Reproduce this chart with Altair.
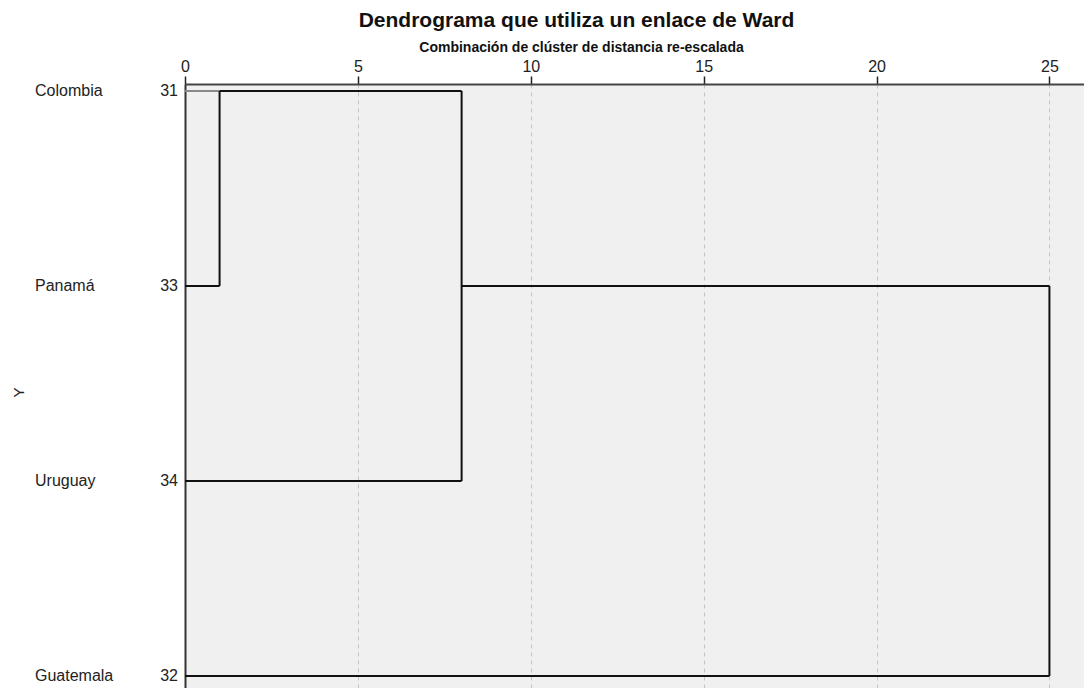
import altair as alt
import pandas as pd

# Leaves (top to bottom as drawn)
leaf_names = ["Colombia", "Panamá", "Uruguay", "Guatemala"]
leaf_ids = [31, 33, 34, 32]
leaf_rows = [0, 1, 2, 3]
leaf_join = [1, 1, 8, 25]          # rescaled distance where each leaf joins
leaf_color = ["#8a8a8a", "#111111", "#111111", "#111111"]

# Merges: distance, vertical span (rows), output row, distance of parent merge
merge_dist = [1, 8, 25]
merge_top = [0, 0, 1]
merge_bot = [1, 2, 3]
merge_out_row = [0, 1]
merge_parent = [8, 25]

ticks = [0, 5, 10, 15, 20, 25]

FONT = "Liberation Sans"

leaves = pd.DataFrame({
    "name": leaf_names, "id": [str(i) for i in leaf_ids], "row": leaf_rows,
    "x0": [0] * len(leaf_rows), "x1": leaf_join, "col": leaf_color,
})
verticals = pd.DataFrame({"x": merge_dist, "r0": merge_top, "r1": merge_bot})
links = pd.DataFrame({"x0": merge_dist[:2], "x1": merge_parent, "row": merge_out_row})

xscale = alt.Scale(domain=[0, 26], nice=False, zero=False)
yscale = alt.Scale(domain=[-7 / 195, 597 / 195], nice=False, zero=False, reverse=True)

xaxis = alt.Axis(
    orient="top", values=ticks, format="d", tickSize=8, tickColor="#222",
    tickWidth=1.5, domainColor="#444", domainWidth=2, labelFont=FONT,
    labelFontSize=16, labelColor="#222", labelPadding=2, labelFlush=False,
    grid=True, gridColor="#c4c4c4", gridDash=[4, 4], gridWidth=1,
    title="Combinación de clúster de distancia re-escalada", titleFont=FONT,
    titleFontSize=14, titleFontWeight="bold", titleColor="#111",
    titleX=396, titleY=-33, titleBaseline="alphabetic", titleAlign="center",
)
yaxis = alt.Axis(
    orient="left", labels=False, ticks=False, grid=False, domain=True,
    domainColor="#333", domainWidth=2, title="Y", titleFont=FONT,
    titleFontSize=15, titleFontWeight="normal", titleColor="#222",
    titleAngle=270, titleX=-167, titleY=308, titleBaseline="middle",
    titleAlign="center",
)

leaf_lines = alt.Chart(leaves).mark_rule(strokeWidth=2).encode(
    x=alt.X("x0:Q", scale=xscale, axis=xaxis),
    x2="x1:Q",
    y=alt.Y("row:Q", scale=yscale, axis=yaxis),
    color=alt.Color("col:N", scale=None),
)

vert_lines = alt.Chart(verticals).mark_rule(strokeWidth=2, color="#111").encode(
    x="x:Q", y="r0:Q", y2="r1:Q",
)

link_lines = alt.Chart(links).mark_rule(strokeWidth=2, color="#111").encode(
    x="x0:Q", x2="x1:Q", y="row:Q",
)

names = alt.Chart(leaves).mark_text(
    align="left", baseline="middle", font=FONT, fontSize=16, color="#222"
).encode(x=alt.value(-150), y="row:Q", text="name:N")

ids = alt.Chart(leaves).mark_text(
    align="right", baseline="middle", font=FONT, fontSize=16, color="#222"
).encode(x=alt.value(-7), y="row:Q", text="id:N")

chart = alt.layer(leaf_lines, link_lines, vert_lines, names, ids).properties(
    width=899, height=604,
    autosize=alt.AutoSizeParams(type="none"),
    padding={"left": 177, "top": 76, "right": 0, "bottom": 0},
    title=alt.TitleParams(
        "Dendrograma que utiliza un enlace de Ward", font=FONT, fontSize=21,
        fontWeight="bold", color="#111", anchor="middle", dx=-58, offset=9,
    ),
).configure_view(fill="#f0f0f0", stroke=None)

chart.save("out.html", embed_options={"renderer": "svg", "actions": False})
